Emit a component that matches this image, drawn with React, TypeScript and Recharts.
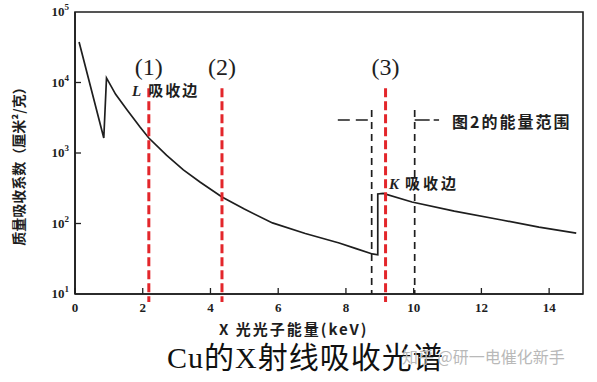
import { LineChart, Line, XAxis, YAxis, ReferenceLine, ReferenceArea } from 'recharts'

// Cu mass absorption coefficient vs photon energy
const energyKeV = [0.12, 0.85, 0.93, 1.2, 1.54, 1.92, 2.18, 2.7, 3.2, 3.7, 4.34, 5.0, 5.83, 6.8, 7.8, 8.3, 8.78, 8.94, 8.94, 9.1, 9.95, 11.2, 12.6, 13.7, 14.8]
const massAbsorption = [37500, 1630, 11600, 6800, 4080, 2340, 1630, 930, 575, 385, 238, 160, 102, 72, 53, 44, 37, 36, 262, 268, 202, 150, 112, 89, 73]

const xTicks = [0, 2, 4, 6, 8, 10, 12, 14]
const yTicks = [10, 100, 1000, 10000, 100000]

// red markers (1)(2)(3)
const markerEnergies = [2.18, 4.34, 9.17]
const markerNames = ['(1)', '(2)', '(3)']
const markerTop = 8300
const markerBottom = 7.7

// black dashed "图2的能量范围" bracket
const rangeEnergies = [8.76, 10.03]
const rangeTop = 4080
const bracketLevel = 2940
const bracketLeft = 7.76
const bracketRight = 10.75

const data = energyKeV.map((e, i) => ({ e, mu: massAbsorption[i] }))

const serif = "'Liberation Serif', 'DejaVu Serif', 'Noto Sans CJK SC', serif"
const cjk = "'Noto Sans CJK SC', 'Noto Sans', sans-serif"
const ink = '#1e1e1e'
const red = '#e3262b'

function XTick({ x, y, payload }: any) {
  return (
    <g>
      <line x1={x} x2={x} y1={y} y2={y - 6} stroke={ink} strokeWidth={1.3} />
      <text x={x} y={y + 13} textAnchor="middle" dominantBaseline="central"
        fontFamily={serif} fontWeight="bold" fontSize={13} fill={ink}>
        {payload.value}
      </text>
    </g>
  )
}

function YTick({ x, y, payload }: any) {
  const exp = Math.round(Math.log10(payload.value))
  return (
    <g>
      {exp > 1 && exp < 5 && <line x1={x} x2={x + 6} y1={y} y2={y} stroke={ink} strokeWidth={1.3} />}
      <text x={x - 6} y={y + 4} textAnchor="end" fontFamily={serif} fontWeight="bold" fontSize={13} fill={ink}>
        10<tspan dy={-6} fontSize={9}>{exp}</tspan>
      </text>
    </g>
  )
}

export default function App() {
  return (
    <div style={{ position: 'absolute', left: 0, top: 0, width: 597, height: 382, background: '#fff', overflow: 'hidden' }}>
      <LineChart width={597} height={382} data={data} margin={{ top: 12, right: 14, bottom: 58, left: 0 }}>
        <XAxis dataKey="e" type="number" domain={[0, 15]} ticks={xTicks} allowDataOverflow
          height={30} tickSize={0} tickMargin={0} tickLine={false}
          axisLine={{ stroke: ink, strokeWidth: 1.6 }} tick={<XTick />} />
        <YAxis type="number" scale="log" domain={[10, 100000]} ticks={yTicks} allowDataOverflow
          width={75} tickSize={0} tickMargin={0} tickLine={false}
          axisLine={{ stroke: ink, strokeWidth: 1.6 }} tick={<YTick />} />
        <ReferenceArea x1={0} x2={15} y1={10} y2={100000} fill="none" stroke={ink} strokeWidth={1.6} />
        <Line type="linear" dataKey="mu" stroke={ink} strokeWidth={1.7} dot={false} isAnimationActive={false} />
        {rangeEnergies.map(e => (
          <ReferenceLine key={'r' + e} segment={[{ x: e, y: rangeTop }, { x: e, y: 10 }]}
            stroke={ink} strokeWidth={1.7} strokeDasharray="7 5" />
        ))}
        <ReferenceLine segment={[{ x: bracketLeft, y: bracketLevel }, { x: rangeEnergies[0], y: bracketLevel }]}
          stroke={ink} strokeWidth={1.7} strokeDasharray="12 6" />
        <ReferenceLine segment={[{ x: rangeEnergies[1], y: bracketLevel }, { x: bracketRight, y: bracketLevel }]}
          stroke={ink} strokeWidth={1.7} strokeDasharray="15 4" />
        {markerEnergies.map((e, i) => (
          <ReferenceLine key={'m' + e} segment={[{ x: e, y: markerTop }, { x: e, y: markerBottom }]}
            ifOverflow="visible" stroke={red} strokeWidth={3} strokeDasharray="9 4"
            label={{ value: markerNames[i], position: 'top', offset: 13, fontSize: 24, fill: ink, fontFamily: serif }} />
        ))}
      </LineChart>

      <div style={{ position: 'absolute', left: 132, top: 79, fontSize: 15, fontWeight: 'bold', color: ink, whiteSpace: 'nowrap' }}>
        <span style={{ fontFamily: serif, fontStyle: 'italic', marginRight: 7 }}>L</span>
        <span style={{ fontFamily: cjk, letterSpacing: 2 }}>吸收边</span>
      </div>
      <div style={{ position: 'absolute', left: 389, top: 172, fontSize: 15, fontWeight: 'bold', color: ink, whiteSpace: 'nowrap' }}>
        <span style={{ fontFamily: serif, fontStyle: 'italic', marginRight: 6 }}>K</span>
        <span style={{ fontFamily: cjk, letterSpacing: 3 }}>吸收边</span>
      </div>
      <div style={{ position: 'absolute', left: 452, top: 109, fontSize: 16, fontWeight: 'bold', color: ink, fontFamily: cjk, letterSpacing: 2, whiteSpace: 'nowrap' }}>
        图2的能量范围
      </div>
      <div style={{ position: 'absolute', left: 219, top: 318, fontSize: 15, fontWeight: 'bold', color: ink, fontFamily: cjk, letterSpacing: 2, whiteSpace: 'nowrap' }}>
        X 光光子能量(keV)
      </div>
      <div style={{ position: 'absolute', left: 18, top: 163, width: 0, height: 0 }}>
        <div style={{ position: 'absolute', transform: 'translate(-50%, -50%) rotate(-90deg)', fontSize: 14, fontWeight: 'bold', color: ink, fontFamily: cjk, whiteSpace: 'nowrap' }}>
          质量吸收系数（厘米²/克）
        </div>
      </div>
      <div style={{ position: 'absolute', left: 167, top: 333, fontSize: 30, color: '#111', fontFamily: serif, letterSpacing: 1, whiteSpace: 'nowrap' }}>
        Cu的X射线吸收光谱
      </div>
      <div style={{ position: 'absolute', left: 402, top: 344, fontSize: 16, color: '#b9b9b9', fontFamily: cjk, whiteSpace: 'nowrap' }}>
        知乎 @研一电催化新手
      </div>
    </div>
  )
}
